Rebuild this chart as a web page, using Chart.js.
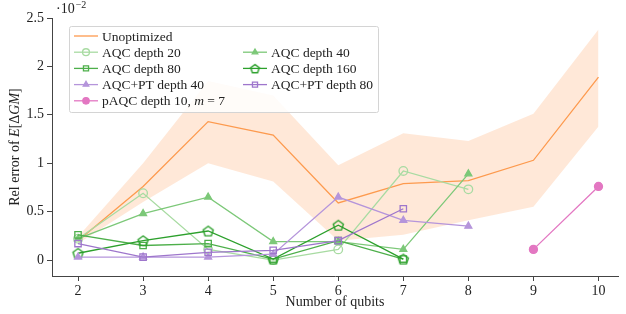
<!DOCTYPE html>
<html lang="en">
<head>
<meta charset="UTF-8">
<title>Rel error vs qubits</title>
<script src="https://cdn.jsdelivr.net/npm/chart.js@4/dist/chart.umd.min.js"></script>
<style>
  html, body { margin: 0; padding: 0; background: #fff; }
  #wrap { width: 626px; height: 314px; }
</style>
</head>
<body>
<div id="wrap"><canvas id="chart" width="626" height="314"></canvas></div>
<script>
// values are in units of 1e-2
const qubits = [2, 3, 4, 5, 6, 7, 8, 9, 10];
const yTicks = [0, 0.5, 1, 1.5, 2, 2.5];

const unopt   = [0.20, 0.76, 1.43, 1.29, 0.59, 0.79, 0.82, 1.03, 1.89];
const unoptHi = [0.24, 1.00, 1.85, 1.70, 0.98, 1.31, 1.23, 1.51, 2.38];
const unoptLo = [0.17, 0.60, 1.00, 0.81, 0.20, 0.26, 0.41, 0.55, 1.38];

const aqc20  = [0.22, 0.69, 0.11, 0.00, 0.11, 0.92, 0.73, null, null];
const aqc40  = [0.22, 0.48, 0.65, 0.19, 0.19, 0.11, 0.89, null, null];
const aqc80  = [0.26, 0.15, 0.17, 0.01, 0.20, 0.01, null, null, null];
const aqc160 = [0.07, 0.20, 0.30, 0.01, 0.36, 0.01, null, null, null];
const pt40   = [0.03, 0.03, 0.03, 0.06, 0.65, 0.41, 0.35, null, null];
const pt80   = [0.17, 0.03, 0.08, 0.10, 0.20, 0.53, null, null, null];
const paqc   = [null, null, null, null, null, null, null, 0.11, 0.76];

const FONT = "'Liberation Serif', 'DejaVu Serif', serif";
const TXT = '#222';
const FS = 14;

function pts(arr) {
  const out = [];
  arr.forEach((v, i) => { if (v !== null) out.push({x: qubits[i], y: v}); });
  return out;
}

// open pentagon marker
function pentagon(color, r) {
  const c = document.createElement('canvas');
  const s = Math.ceil(2 * r + 4);
  c.width = s; c.height = s;
  const g = c.getContext('2d');
  g.strokeStyle = color; g.lineWidth = 1.4;
  g.beginPath();
  for (let k = 0; k < 5; k++) {
    const a = -Math.PI / 2 + k * 2 * Math.PI / 5;
    const px = s / 2 + r * Math.cos(a), py = s / 2 + 0.6 + r * Math.sin(a);
    k ? g.lineTo(px, py) : g.moveTo(px, py);
  }
  g.closePath(); g.stroke();
  return c;
}

function series(label, data, color, style, filled, radius) {
  return {
    label: label, data: pts(data),
    borderColor: color, borderWidth: 1.3,
    backgroundColor: filled ? color : 'rgba(0,0,0,0)',
    pointStyle: style, pointRadius: radius, pointBorderWidth: 1.3,
    pointBorderColor: color, pointBackgroundColor: filled ? color : 'rgba(0,0,0,0)',
    fill: false, tension: 0
  };
}

const datasets = [
  series('pAQC depth 10, m = 7', paqc, '#e377c2', 'circle', true, 4),
  series('AQC+PT depth 80', pt80, '#9e76cc', 'rect', false, 4.5),
  series('AQC+PT depth 40', pt40, '#b595db', 'triangle', true, 4),
  series('AQC depth 160', aqc160, '#2ca02c', pentagon('#2ca02c', 5.3), false, 5),
  series('AQC depth 80', aqc80, '#4daf4a', 'rect', false, 4.5),
  series('AQC depth 40', aqc40, '#7cc878', 'triangle', true, 4),
  series('AQC depth 20', aqc20, '#a8dba2', 'circle', false, 4.3),
  { label: 'Unoptimized', data: pts(unopt), borderColor: '#fd9a4e', borderWidth: 1.3,
    pointRadius: 0, fill: false, tension: 0 },
  { label: 'hi', data: pts(unoptHi), borderWidth: 0, pointRadius: 0,
    backgroundColor: 'rgba(253,141,60,0.2)', fill: '+1', tension: 0 },
  { label: 'lo', data: pts(unoptLo), borderWidth: 0, pointRadius: 0, fill: false, tension: 0 }
];

// legend markers (smaller copies)
const legendPent = pentagon('#2ca02c', 4.5);

function drawParts(ctx, parts, x, y, size) {
  let cx = x;
  parts.forEach(p => {
    ctx.font = (p.i ? 'italic ' : '') + size + 'px ' + FONT;
    ctx.fillText(p.t, cx, y);
    cx += ctx.measureText(p.t).width;
  });
}
function partsWidth(ctx, parts, size) {
  let w = 0;
  parts.forEach(p => {
    ctx.font = (p.i ? 'italic ' : '') + size + 'px ' + FONT;
    w += ctx.measureText(p.t).width;
  });
  return w;
}

const extras = {
  id: 'extras',
  afterDraw(chart) {
    const ctx = chart.ctx;
    ctx.save();
    ctx.fillStyle = TXT;
    ctx.textBaseline = 'alphabetic';

    // exponent label
    ctx.font = FS + 'px ' + FONT;
    ctx.fillText('\u00b710', 56, 13);
    const w10 = ctx.measureText('\u00b710').width;
    ctx.font = '10px ' + FONT;
    ctx.fillText('\u22122', 56 + w10 + 1, 8);

    // y title
    const yParts = [{t: 'Rel error of '}, {t: 'E', i: true}, {t: '[\u0394'}, {t: 'GM', i: true}, {t: ']'}];
    const w = partsWidth(ctx, yParts, FS);
    ctx.translate(19, 147);
    ctx.rotate(-Math.PI / 2);
    drawParts(ctx, yParts, -w / 2, 0, FS);
    ctx.restore();

    // legend
    ctx.save();
    const bx = 69, by = 26, bw = 309, bh = 86;
    ctx.fillStyle = 'rgba(255,255,255,0.85)';
    ctx.strokeStyle = '#d4d4d4';
    ctx.lineWidth = 1;
    ctx.beginPath();
    ctx.roundRect(bx + 0.5, by + 0.5, bw, bh, 2);
    ctx.fill(); ctx.stroke();

    const byLabel = {};
    chart.data.datasets.forEach(d => { byLabel[d.label] = d; });
    const rows = [
      ['Unoptimized', null],
      ['AQC depth 20', 'AQC depth 40'],
      ['AQC depth 80', 'AQC depth 160'],
      ['AQC+PT depth 40', 'AQC+PT depth 80'],
      ['pAQC depth 10, m = 7', null]
    ];
    const colX = [74, 243];
    rows.forEach((r, ri) => {
      const y = 36 + ri * 16.2;
      r.forEach((lab, ci) => {
        if (!lab) return;
        const d = byLabel[lab];
        const x0 = colX[ci];
        ctx.strokeStyle = d.borderColor;
        ctx.lineWidth = 1.3;
        ctx.beginPath(); ctx.moveTo(x0, y); ctx.lineTo(x0 + 24, y); ctx.stroke();
        if (d.pointRadius) {
          ctx.fillStyle = d.pointBackgroundColor;
          ctx.strokeStyle = d.pointBorderColor;
          const style = (d.pointStyle instanceof HTMLCanvasElement) ? legendPent : d.pointStyle;
          Chart.helpers.drawPoint(ctx, {
            pointStyle: style, radius: d.pointRadius * 0.8, borderWidth: 1.2, rotation: 0
          }, x0 + 12, y);
        }
        ctx.fillStyle = TXT;
        const parts = lab === 'pAQC depth 10, m = 7'
          ? [{t: 'pAQC depth 10, '}, {t: 'm', i: true}, {t: ' = 7'}]
          : [{t: lab}];
        drawParts(ctx, parts, x0 + 28, y + 4.5, 13.5);
      });
    });
    ctx.restore();
  }
};

const ctx = document.getElementById('chart').getContext('2d');
new Chart(ctx, {
  type: 'line',
  data: { datasets: datasets },
  options: {
    responsive: false,
    animation: false,
    layout: { padding: { top: 18, right: 8, left: 0, bottom: 0 } },
    plugins: {
      legend: { display: false },
      tooltip: { enabled: false },
      filler: { drawTime: 'beforeDatasetsDraw' }
    },
    scales: {
      x: {
        type: 'linear', min: 1.6, max: 10.3,
        afterBuildTicks: s => { s.ticks = qubits.map(v => ({value: v})); },
        afterFit: s => { s.height = 38; },
        grid: { drawOnChartArea: false, drawTicks: true, tickLength: 5, color: '#444' },
        border: { display: true, color: '#444', width: 1 },
        ticks: { color: TXT, font: { family: FONT, size: FS }, padding: 2, maxRotation: 0 },
        title: { display: true, text: 'Number of qubits', color: TXT,
                 font: { family: FONT, size: FS }, padding: { top: 0, bottom: 3 } }
      },
      y: {
        min: -0.165, max: 2.5,
        afterBuildTicks: s => { s.ticks = yTicks.map(v => ({value: v})); },
        afterFit: s => { s.width = 52; },
        grid: { drawOnChartArea: false, drawTicks: true, tickLength: 5, color: '#444' },
        border: { display: true, color: '#444', width: 1 },
        ticks: { color: TXT, font: { family: FONT, size: FS }, padding: 3,
                 callback: v => String(v) }
      }
    }
  },
  plugins: [extras]
});
</script>
</body>
</html>
